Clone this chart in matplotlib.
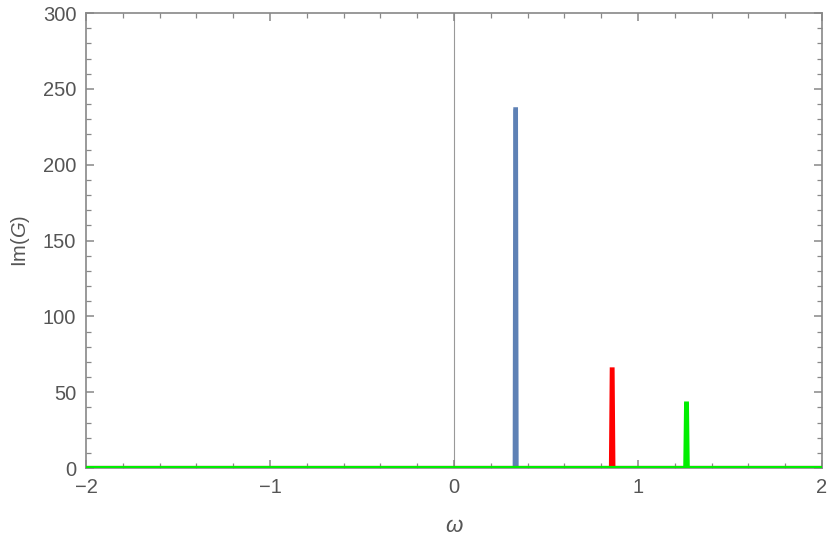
import matplotlib
matplotlib.use("Agg")
import matplotlib.pyplot as plt
from matplotlib.ticker import MultipleLocator

# Data (spiky peaks of Im(G))
blue_w = [-2.0, 0.330, 0.3335, 0.3365, 0.340, 2.0]
blue_g = [0.0, 0.0, 236.5, 236.5, 0.0, 0.0]
red_w = [-2.0, 0.853, 0.8575, 0.8615, 0.866, 2.0]
red_g = [0.0, 0.0, 65.0, 65.0, 0.0, 0.0]
green_w = [-2.0, 1.257, 1.2615, 1.2655, 1.270, 2.0]
green_g = [0.0, 0.0, 42.5, 42.5, 0.0, 0.0]

xticks = [-2, -1, 0, 1, 2]
yticks = [0, 50, 100, 150, 200, 250, 300]

plt.rcParams['font.family'] = ['Liberation Sans', 'DejaVu Sans']
plt.rcParams['mathtext.fontset'] = 'custom'
plt.rcParams['mathtext.rm'] = 'Liberation Sans'
plt.rcParams['mathtext.it'] = 'Liberation Sans:italic'

fig = plt.figure(figsize=(8.3, 5.42), dpi=100)
ax = fig.add_axes([0.1036, 0.1365, 0.8868, 0.8395])

ax.axvline(0, color='#999999', lw=0.8, zorder=1)
ax.plot(blue_w, blue_g, color='#5E81B5', lw=3, solid_joinstyle='miter', zorder=3)
ax.plot(red_w, red_g, color='#FF0000', lw=3, solid_joinstyle='miter', zorder=4)
ax.plot(green_w, green_g, color='#00EE00', lw=3, solid_joinstyle='miter', zorder=5)

ax.set_xlim(-2, 2)
ax.set_ylim(0, 300)
ax.set_xticks(xticks)
ax.set_yticks(yticks)
ax.set_xticklabels(['\u22122', '\u22121', '0', '1', '2'])
ax.xaxis.set_minor_locator(MultipleLocator(0.2))
ax.yaxis.set_minor_locator(MultipleLocator(10))

for s in ax.spines.values():
    s.set_color('#888888')
    s.set_linewidth(1.2)

ax.tick_params(which='both', direction='in', top=True, right=True, color='#888888',
               labelcolor='#555555', labelsize=14.5)
ax.tick_params(which='major', length=6, width=1.1, pad=7)
ax.tick_params(which='minor', length=3.5, width=0.9)

ax.set_xlabel(r'$\mathit{\omega}$', fontsize=16, color='#555555', labelpad=14)
ax.set_ylabel(r'$\mathrm{Im}(\mathit{G})$', fontsize=14.5, color='#555555', labelpad=8)

fig.savefig('out.png', dpi=100)
